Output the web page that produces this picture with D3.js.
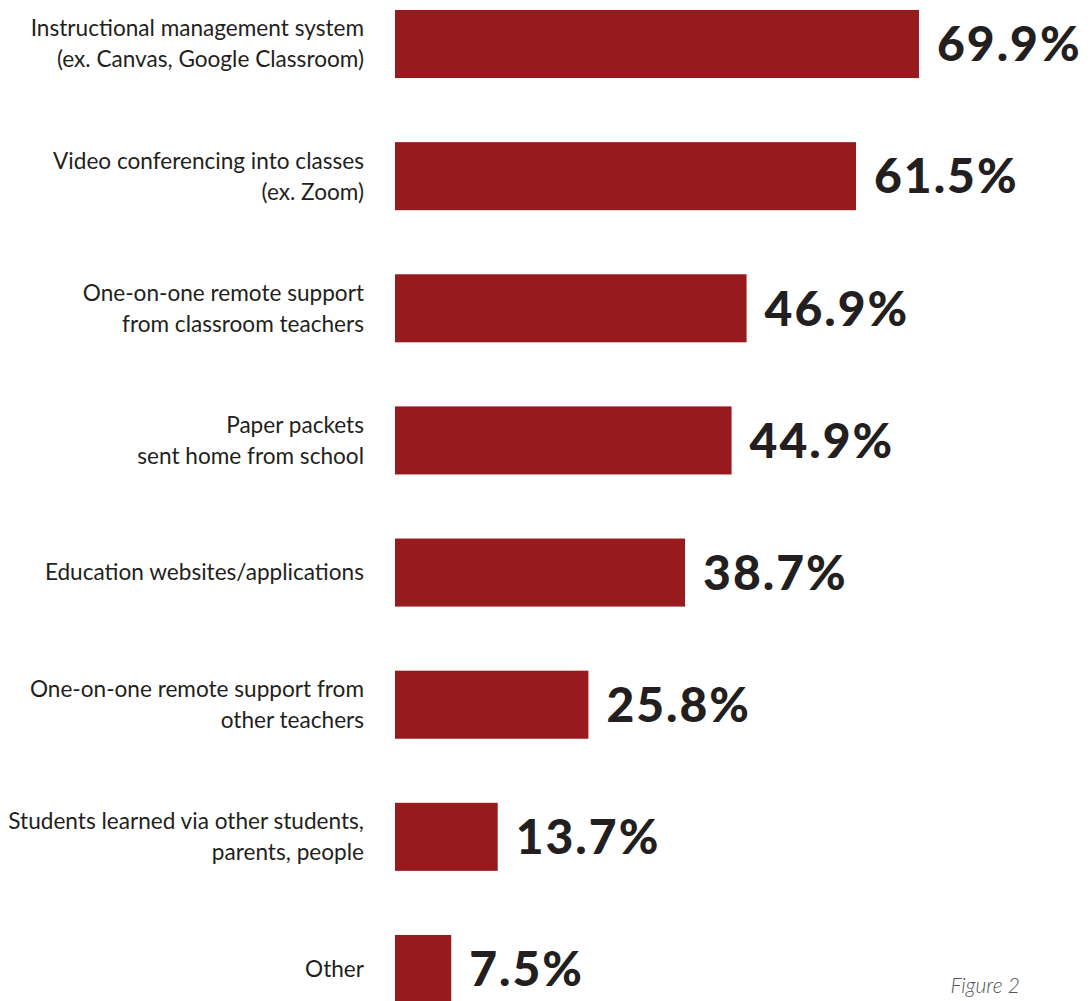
<!DOCTYPE html>
<html><head><meta charset="utf-8">
<script src="https://cdn.jsdelivr.net/npm/d3@7"></script>
<style>
html,body{margin:0;padding:0;background:#fff;}
svg{display:block;}
</style></head>
<body><svg id="chart" width="1090" height="1001"></svg>
<script>
const categories = [
  ["Instructional management system", "(ex. Canvas, Google Classroom)"],
  ["Video conferencing into classes", "(ex. Zoom)"],
  ["One-on-one remote support", "from classroom teachers"],
  ["Paper packets", "sent home from school"],
  ["Education websites/applications"],
  ["One-on-one remote support from", "other teachers"],
  ["Students learned via other students,", "parents, people"],
  ["Other"]
];
const values = [69.9, 61.5, 46.9, 44.9, 38.7, 25.8, 13.7, 7.5];
const valueLabels = ["69.9%", "61.5%", "46.9%", "44.9%", "38.7%", "25.8%", "13.7%", "7.5%"];
const caption = "Figure 2";

const svg = d3.select("#chart");
const idx = d3.range(values.length);
const y = d3.scaleBand().domain(idx).range([10, 1003]).paddingInner(0.485).paddingOuter(0);
const x = d3.scaleLinear().domain([0, 100]).range([395, 395 + 749.6]);

svg.selectAll("rect.bar").data(idx).join("rect")
  .attr("class", "bar")
  .attr("x", x(0))
  .attr("y", i => y(i))
  .attr("width", i => x(values[i]) - x(0))
  .attr("height", y.bandwidth())
  .attr("fill", "#971a1f");

const labelFont = "Lato, 'Open Sans', sans-serif";
const lineH = 31;
const lab = svg.selectAll("text.cat").data(idx).join("text")
  .attr("class", "cat")
  .attr("text-anchor", "end")
  .attr("font-family", labelFont)
  .attr("font-size", 22.6)
  .attr("fill", "#231f20");
lab.each(function(i) {
  const lines = categories[i];
  const cy = y(i) + y.bandwidth() / 2;
  const first = cy - (lines.length - 1) * lineH / 2;
  d3.select(this).selectAll("tspan").data(lines).join("tspan")
    .attr("x", 364)
    .attr("y", (d, k) => first + k * lineH)
    .attr("dy", "0.35em")
    .text(d => d);
});

svg.selectAll("text.val").data(idx).join("text")
  .attr("class", "val")
  .attr("x", i => x(values[i]) + 18)
  .attr("y", i => y(i) + y.bandwidth() / 2)
  .attr("dy", "0.36em")
  .attr("font-family", "Lato, sans-serif")
  .attr("font-weight", 900)
  .attr("font-size", 48)
  .attr("letter-spacing", 2)
  .attr("fill", "#231f20")
  .text(i => valueLabels[i]);

svg.append("text")
  .attr("x", 1020)
  .attr("y", 993)
  .attr("text-anchor", "end")
  .attr("font-family", "Lato, sans-serif")
  .attr("font-style", "italic")
  .attr("font-weight", 300)
  .attr("font-size", 21)
  .attr("fill", "#555")
  .text(caption);
</script></body></html>
